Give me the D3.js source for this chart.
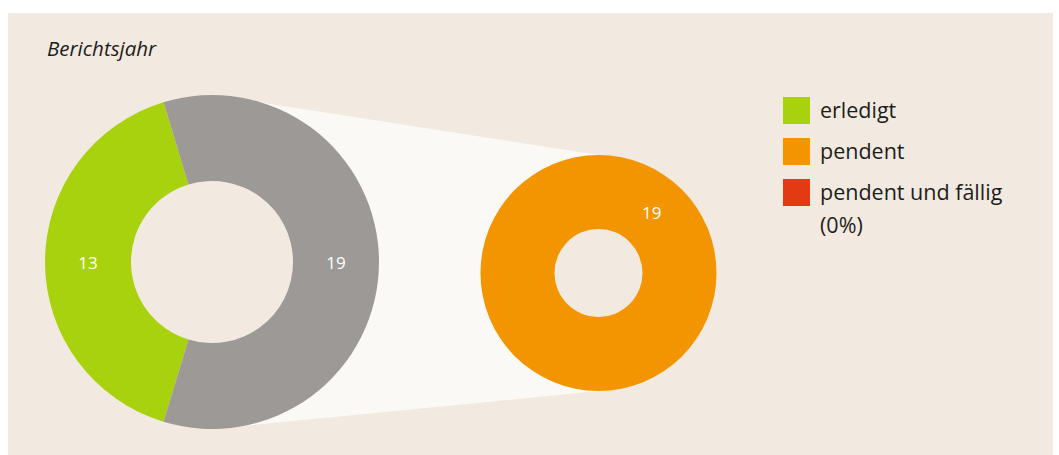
<!DOCTYPE html>
<html>
<head>
<meta charset="utf-8">
<script src="https://cdn.jsdelivr.net/npm/d3@7"></script>
<style>
  html, body { margin: 0; padding: 0; background: #ffffff; }
  text { font-family: "Open Sans", "Noto Sans", sans-serif; }
</style>
</head>
<body>
<div id="chart"></div>
<script>
// Berichtsjahr: erledigt vs pendent, pendent split into pendent / pendent und fällig
var mainLabels = ["erledigt", "pendent"];
var mainValues = [13, 19];
var subLabels = ["pendent", "pendent und fällig"];
var subValues = [19, 0];
var legendLabels = ["erledigt", "pendent", "pendent und fällig"];
var legendExtra = ["", "", "(0%)"];

var colors = {
  "erledigt": "#a7d20d",
  "pendent": "#f39500",
  "pendent und fällig": "#e23a13",
  "other": "#9d9996"
};
var panelColor = "#f2eae0";

var width = 1059, height = 455;

var svg = d3.select("#chart")
  .append("svg")
    .attr("width", width)
    .attr("height", height);

// panel background
svg.append("rect")
  .attr("x", 8).attr("y", 13)
  .attr("width", 1045).attr("height", 442)
  .attr("fill", panelColor);

svg.append("text")
  .attr("x", 47).attr("y", 56)
  .style("font-size", "20.5px")
  .style("font-style", "italic")
  .attr("fill", "#1d1d1b")
  .text("Berichtsjahr");

// donut geometry
var big = {cx: 212, cy: 262, r0: 81, r1: 167};
var small = {cx: 598.5, cy: 273, r0: 44, r1: 118};

// connector between the two donuts (drawn first, behind)
svg.append("path")
  .attr("d", d3.line()([
    [big.cx, big.cy - big.r1],
    [small.cx, small.cy - small.r1],
    [small.cx, small.cy + small.r1],
    [big.cx, big.cy + big.r1]
  ]) + "Z")
  .attr("fill", "#fbf9f6");

// holes keep the panel colour
[big, small].forEach(function(c) {
  svg.append("circle")
    .attr("cx", c.cx).attr("cy", c.cy).attr("r", c.r0)
    .attr("fill", panelColor);
});

// big donut: erledigt centred on the left side
var total = d3.sum(mainValues);
var greenSpan = mainValues[0] / total * 2 * Math.PI;
var pieBig = d3.pie()
  .sort(null)
  .startAngle(-Math.PI / 2 - greenSpan / 2)
  .endAngle(-Math.PI / 2 - greenSpan / 2 + 2 * Math.PI);

var arcBig = d3.arc().innerRadius(big.r0).outerRadius(big.r1);

var gBig = svg.append("g")
  .attr("transform", "translate(" + big.cx + "," + big.cy + ")");

var bigArcs = pieBig(mainValues);
gBig.selectAll("path")
  .data(bigArcs)
  .enter()
  .append("path")
    .attr("d", arcBig)
    .attr("fill", function(d, i) { return i === 0 ? colors["erledigt"] : colors["other"]; });

gBig.selectAll("text")
  .data(bigArcs)
  .enter()
  .append("text")
    .attr("transform", function(d) { return "translate(" + arcBig.centroid(d) + ")"; })
    .attr("text-anchor", "middle")
    .attr("dy", "0.4em")
    .attr("fill", "#ffffff")
    .style("font-size", "17px")
    .text(function(d) { return d.value; });

// small donut: breakdown of pendent
var pieSmall = d3.pie().sort(null);
var arcSmall = d3.arc().innerRadius(small.r0).outerRadius(small.r1);

var gSmall = svg.append("g")
  .attr("transform", "translate(" + small.cx + "," + small.cy + ")");

var smallArcs = pieSmall(subValues);
gSmall.selectAll("path")
  .data(smallArcs)
  .enter()
  .append("path")
    .attr("d", arcSmall)
    .attr("fill", function(d, i) { return colors[subLabels[i]]; });

// value label sits near the upper right of the ring
var labelAngle = 41 * Math.PI / 180;
var labelArc = {startAngle: labelAngle, endAngle: labelAngle};
gSmall.append("text")
  .attr("transform", "translate(" + arcSmall.centroid(labelArc) + ")")
  .attr("text-anchor", "middle")
  .attr("dy", "0.4em")
  .attr("fill", "#ffffff")
  .style("font-size", "17px")
  .text(subValues[0]);

// legend
var legend = svg.append("g")
  .attr("transform", "translate(783,97)");

var rows = legend.selectAll("g")
  .data(legendLabels)
  .enter()
  .append("g")
    .attr("transform", function(d, i) { return "translate(0," + (i * 41) + ")"; });

rows.append("rect")
  .attr("width", 27).attr("height", 27)
  .attr("fill", function(d) { return colors[d]; });

rows.append("text")
  .attr("x", 37).attr("y", 21)
  .attr("fill", "#1d1d1b")
  .style("font-size", "21.5px")
  .text(function(d) { return d; });

rows.append("text")
  .attr("x", 37).attr("y", 54)
  .attr("fill", "#1d1d1b")
  .style("font-size", "21.5px")
  .text(function(d, i) { return legendExtra[i]; });
</script>
</body>
</html>
